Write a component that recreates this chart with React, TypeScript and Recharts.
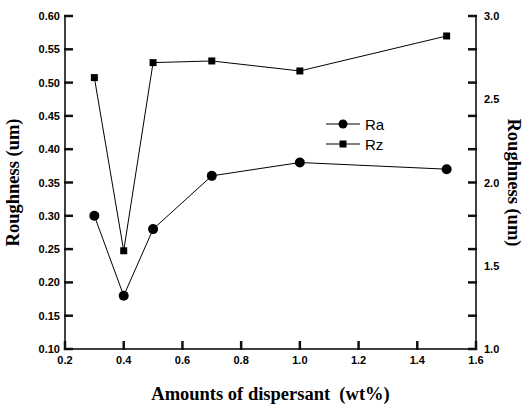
import React from "react";
import {
  ComposedChart,
  Line,
  XAxis,
  YAxis,
  Label,
} from "recharts";

// Amounts of dispersant (wt%)
const amounts = [0.3, 0.4, 0.5, 0.7, 1.0, 1.5];
// Ra on the left axis, Rz on the right axis (um)
const raValues = [0.30, 0.18, 0.28, 0.36, 0.38, 0.37];
const rzValues = [2.63, 1.59, 2.72, 2.73, 2.67, 2.88];

const xTicks = [0.2, 0.4, 0.6, 0.8, 1.0, 1.2, 1.4, 1.6];
const leftTicks = [0.1, 0.15, 0.2, 0.25, 0.3, 0.35, 0.4, 0.45, 0.5, 0.55, 0.6];
const rightTicks = [1.0, 1.2, 1.4, 1.5, 1.6, 1.8, 2.0, 2.2, 2.4, 2.5, 2.6, 2.8, 3.0];

const data = amounts.map((x, i) => ({ x, ra: raValues[i], rz: rzValues[i] }));

const TICK_FONT = "'Liberation Sans', Arial, sans-serif";
const LABEL_FONT = "'Liberation Serif', 'Times New Roman', serif";
const GAP = 6;
const TL = 8;

const tickText = { fontFamily: TICK_FONT, fontWeight: "bold" as const, fontSize: 11, fill: "#000" };

const isHalf = (v: number) => Math.abs(v * 2 - Math.round(v * 2)) < 1e-6;
const isFifth = (v: number) => Math.abs(v * 5 - Math.round(v * 5)) < 1e-6;

// the ticks point into the plot, so each tick draws its own mark
const BottomTick = (props: any) => {
  const { x, y, payload } = props;
  const axisY = y - GAP;
  return (
    <g>
      <line x1={x} y1={axisY + 1} x2={x} y2={axisY - TL} stroke="#111" strokeWidth={2.5} />
      <text x={x} y={axisY + 15} textAnchor="middle" {...tickText}>
        {payload.value.toFixed(1)}
      </text>
    </g>
  );
};

const LeftTick = (props: any) => {
  const { x, y, payload } = props;
  const axisX = x + GAP;
  return (
    <g>
      <line x1={axisX - 1} y1={y} x2={axisX + TL} y2={y} stroke="#111" strokeWidth={2.5} />
      <text x={axisX - 5} y={y} dy={4} textAnchor="end" {...tickText}>
        {payload.value.toFixed(2)}
      </text>
    </g>
  );
};

const RightTick = (props: any) => {
  const { x, y, payload } = props;
  const axisX = x - GAP;
  const v = payload.value;
  return (
    <g>
      {isFifth(v) && <line x1={axisX + 1} y1={y} x2={axisX - TL} y2={y} stroke="#111" strokeWidth={2.5} />}
      {isHalf(v) && (
        <text x={axisX + 8} y={y} dy={4} textAnchor="start" {...tickText}>
          {v.toFixed(1)}
        </text>
      )}
    </g>
  );
};

const SquareDot = (props: any) => {
  const { cx, cy } = props;
  if (cx == null || cy == null) return null;
  return <rect x={cx - 3.5} y={cy - 3.5} width={7} height={7} fill="#000" />;
};

const RoughLegend = () => (
  <div style={{ position: "absolute", left: 326, top: 114, fontFamily: TICK_FONT, fontSize: 15, color: "#000" }}>
    <div style={{ display: "flex", alignItems: "center", height: 20 }}>
      <svg width={34} height={12}>
        <line x1={0} y1={6} x2={34} y2={6} stroke="#000" strokeWidth={1} />
        <circle cx={17} cy={6} r={4.5} fill="#000" />
      </svg>
      <span style={{ marginLeft: 5 }}>Ra</span>
    </div>
    <div style={{ display: "flex", alignItems: "center", height: 20 }}>
      <svg width={34} height={12}>
        <line x1={0} y1={6} x2={34} y2={6} stroke="#000" strokeWidth={1} />
        <rect x={13.5} y={2.5} width={7} height={7} fill="#000" />
      </svg>
      <span style={{ marginLeft: 5 }}>Rz</span>
    </div>
  </div>
);

export default function App() {
  return (
    <div style={{ position: "absolute", left: 0, top: 0, width: 525, height: 405, background: "#fff" }}>
      <ComposedChart width={525} height={405} data={data} margin={{ top: 16, right: 0, bottom: 0, left: 0 }}>
        <XAxis
          dataKey="x"
          type="number"
          domain={[0.2, 1.6]}
          ticks={xTicks}
          interval={0}
          height={56}
          stroke="#000"
          strokeWidth={1.5}
          tickLine={false}
          tickSize={0}
          tickMargin={GAP}
          tick={<BottomTick />}
        >
          <Label
            value={"Amounts of dispersant\u00a0\u00a0(wt%)"}
            position="insideBottom"
            offset={5}
            style={{ fontFamily: LABEL_FONT, fontWeight: "bold", fontSize: 18.5, fill: "#000" }}
          />
        </XAxis>
        <XAxis xAxisId="top" orientation="top" type="number" domain={[0.2, 1.6]} height={0} tick={false} tickLine={false} stroke="#000" strokeWidth={1.5} />
        <YAxis
          yAxisId="left"
          type="number"
          domain={[0.1, 0.6]}
          ticks={leftTicks}
          interval={0}
          width={65}
          stroke="#000"
          strokeWidth={1.5}
          tickLine={false}
          tickSize={0}
          tickMargin={GAP}
          tick={<LeftTick />}
        >
          <Label
            value="Roughness (um)"
            angle={-90}
            position="insideLeft"
            offset={12}
            style={{ fontFamily: LABEL_FONT, fontWeight: "bold", fontSize: 18.5, fill: "#000", textAnchor: "middle" }}
          />
        </YAxis>
        <YAxis
          yAxisId="right"
          orientation="right"
          type="number"
          domain={[1, 3]}
          ticks={rightTicks}
          interval={0}
          width={49}
          stroke="#000"
          strokeWidth={1.5}
          tickLine={false}
          tickSize={0}
          tickMargin={GAP}
          tick={<RightTick />}
        >
          <Label
            value="Roughness (um)"
            angle={90}
            position="insideRight"
            offset={10}
            style={{ fontFamily: LABEL_FONT, fontWeight: "bold", fontSize: 18.5, fill: "#000", textAnchor: "middle" }}
          />
        </YAxis>
        <Line
          yAxisId="left"
          dataKey="ra"
          stroke="#000"
          strokeWidth={1}
          dot={{ r: 5, fill: "#000", stroke: "#000", strokeWidth: 0 }}
          isAnimationActive={false}
        />
        <Line
          yAxisId="right"
          dataKey="rz"
          stroke="#000"
          strokeWidth={1}
          dot={<SquareDot />}
          isAnimationActive={false}
        />
      </ComposedChart>
      <RoughLegend />
    </div>
  );
}
